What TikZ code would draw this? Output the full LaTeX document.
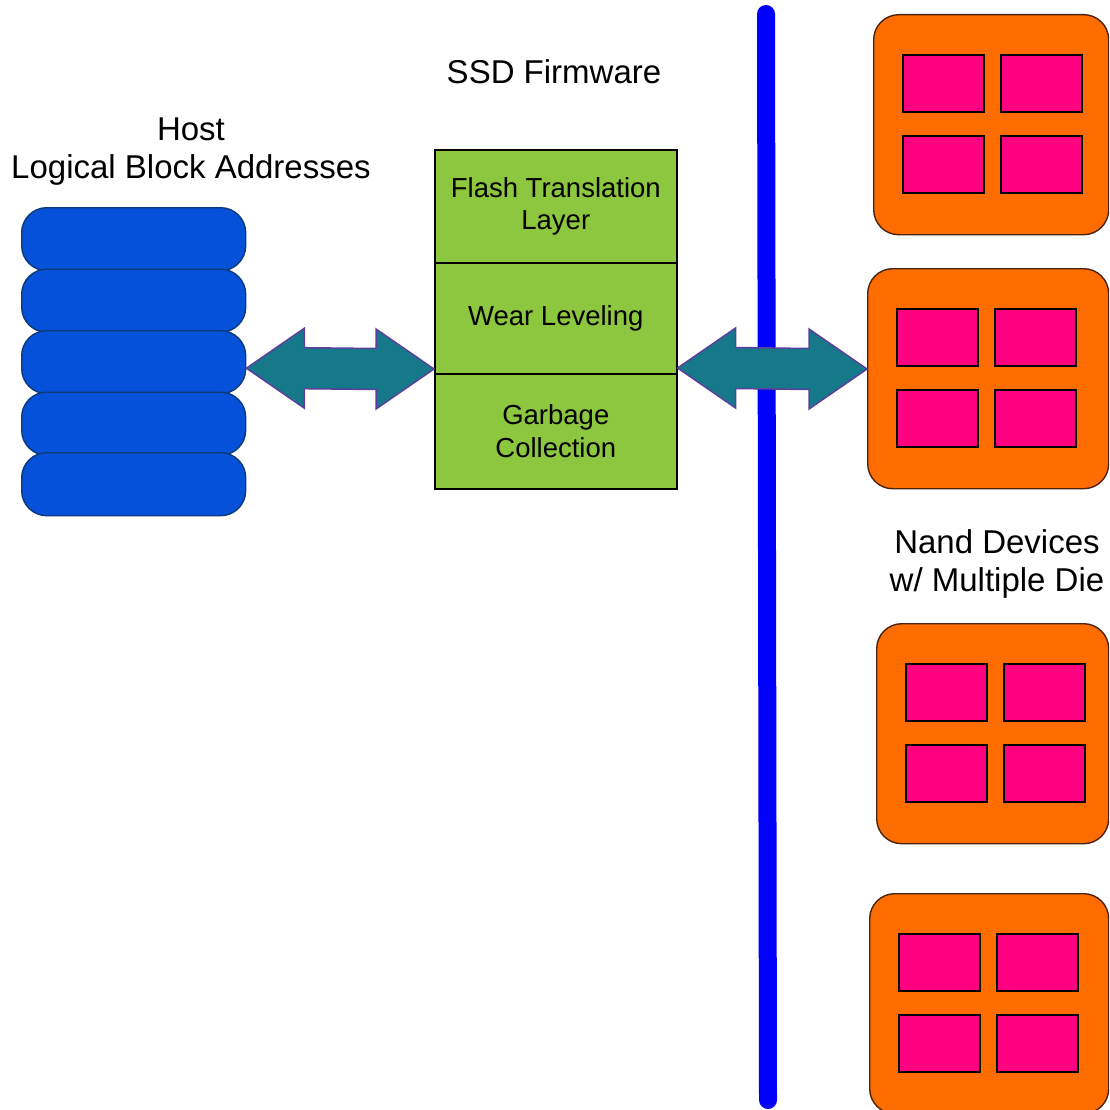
\documentclass[tikz,border=0pt]{standalone}
\usepackage{fontspec}
\setmainfont{Liberation Sans}
\usetikzlibrary{calc}

\definecolor{lbablue}{HTML}{0551D9}
\definecolor{lbaedge}{HTML}{0C3A78}
\definecolor{fwgreen}{HTML}{8DC63F}
\definecolor{busblue}{HTML}{0000FF}
\definecolor{arrowfill}{HTML}{15798A}
\definecolor{arrowedge}{HTML}{5A3F9C}
\definecolor{nandorange}{HTML}{FF6D00}
\definecolor{nandedge}{HTML}{4A2410}
\definecolor{diepink}{HTML}{FF0080}

\tikzset{
  title/.style={font=\fontsize{33}{38}\selectfont, align=center, inner sep=0pt},
  lba/.style={draw=lbaedge, line width=1.4pt, fill=lbablue, rounded corners=25pt,
    minimum width=224pt, minimum height=63pt, anchor=north west, inner sep=0pt},
  fwlayer/.style={draw=black, line width=1.6pt, fill=fwgreen, minimum width=242pt,
    anchor=north west, inner sep=0pt, align=center,
    font=\fontsize{27.5}{32.5}\selectfont},
  nandbox/.style={draw=nandedge, line width=1.4pt, fill=nandorange, rounded corners=25pt,
    anchor=north west, inner sep=0pt, minimum height=220pt},
  die/.style={draw=black, line width=2pt, fill=diepink, minimum width=81pt,
    minimum height=57pt, anchor=north west, inner sep=0pt},
  bus/.style={draw=busblue, line width=18pt, line cap=round},
  dblarrow/.style={draw=arrowedge, fill=arrowfill, line width=1.5pt, line join=miter,
    to path={let \p1=(\tikztostart), \p2=(\tikztotarget) in
      (\p1) -- (\x1+58pt,\y1+40pt) -- (\x1+58pt,\y1+20.5pt)
      -- (\x2-58pt,\y2+20.5pt) -- (\x2-58pt,\y2+40pt) -- (\p2)
      -- (\x2-58pt,\y2-40pt) -- (\x2-58pt,\y2-20.5pt)
      -- (\x1+58pt,\y1-20.5pt) -- (\x1+58pt,\y1-40pt) -- cycle}},
}

\begin{document}
\begin{tikzpicture}[x=1pt,y=-1pt]
\useasboundingbox (0,0) rectangle (1109,1110);
\clip (0,0) rectangle (1109,1110);

% system bus
\coordinate (bustop) at (766,14);
\coordinate (busbot) at (768,1100);
\draw[bus] (bustop) -- (busbot);

% host logical block addresses
\node[title] (hosttitle) at (191,152) {Host\\Logical Block Addresses};
\foreach \i/\y in {1/207,2/268.5,3/330,4/391.5,5/452}
  \node[lba] (lba\i) at (21,\y) {};

% firmware layers
\node[title] (fwtitle) at (554,72) {SSD Firmware};
\node[fwlayer, minimum height=113pt] (ftl) at (434,149) {Flash Translation\\Layer};
\node[fwlayer, minimum height=111pt] (wear) at (434,262) {Wear Leveling};
\node[fwlayer, minimum height=115pt] (gc) at (434,373) {Garbage\\Collection};

% nand devices, each with four dies
\foreach \n/\l/\t in {1/873/14,2/867/268,3/876/623,4/869/893}{
  \pgfmathsetmacro{\w}{1108-\l}
  \node[nandbox, minimum width=\w pt] (nand\n) at (\l,\t) {};
  \node[die] (nand\n-1) at (\l+29,\t+40) {};
  \node[die] (nand\n-2) at (\l+127,\t+40) {};
  \node[die] (nand\n-3) at (\l+29,\t+121) {};
  \node[die] (nand\n-4) at (\l+127,\t+121) {};
}
\node[title] (nandtitle) at (997,564) {Nand Devices\\w/ Multiple Die};

% data paths
\coordinate (hostport) at ($(lba3.east)+(0,6)$);
\coordinate (fwin) at (ftl.west |- 0,369);
\coordinate (fwout) at (ftl.east |- 0,368);
\coordinate (nandport) at (nand2.west |- 0,369);
\path[dblarrow] (hostport) to (fwin);
\path[dblarrow] (fwout) to (nandport);
\end{tikzpicture}
\end{document}
